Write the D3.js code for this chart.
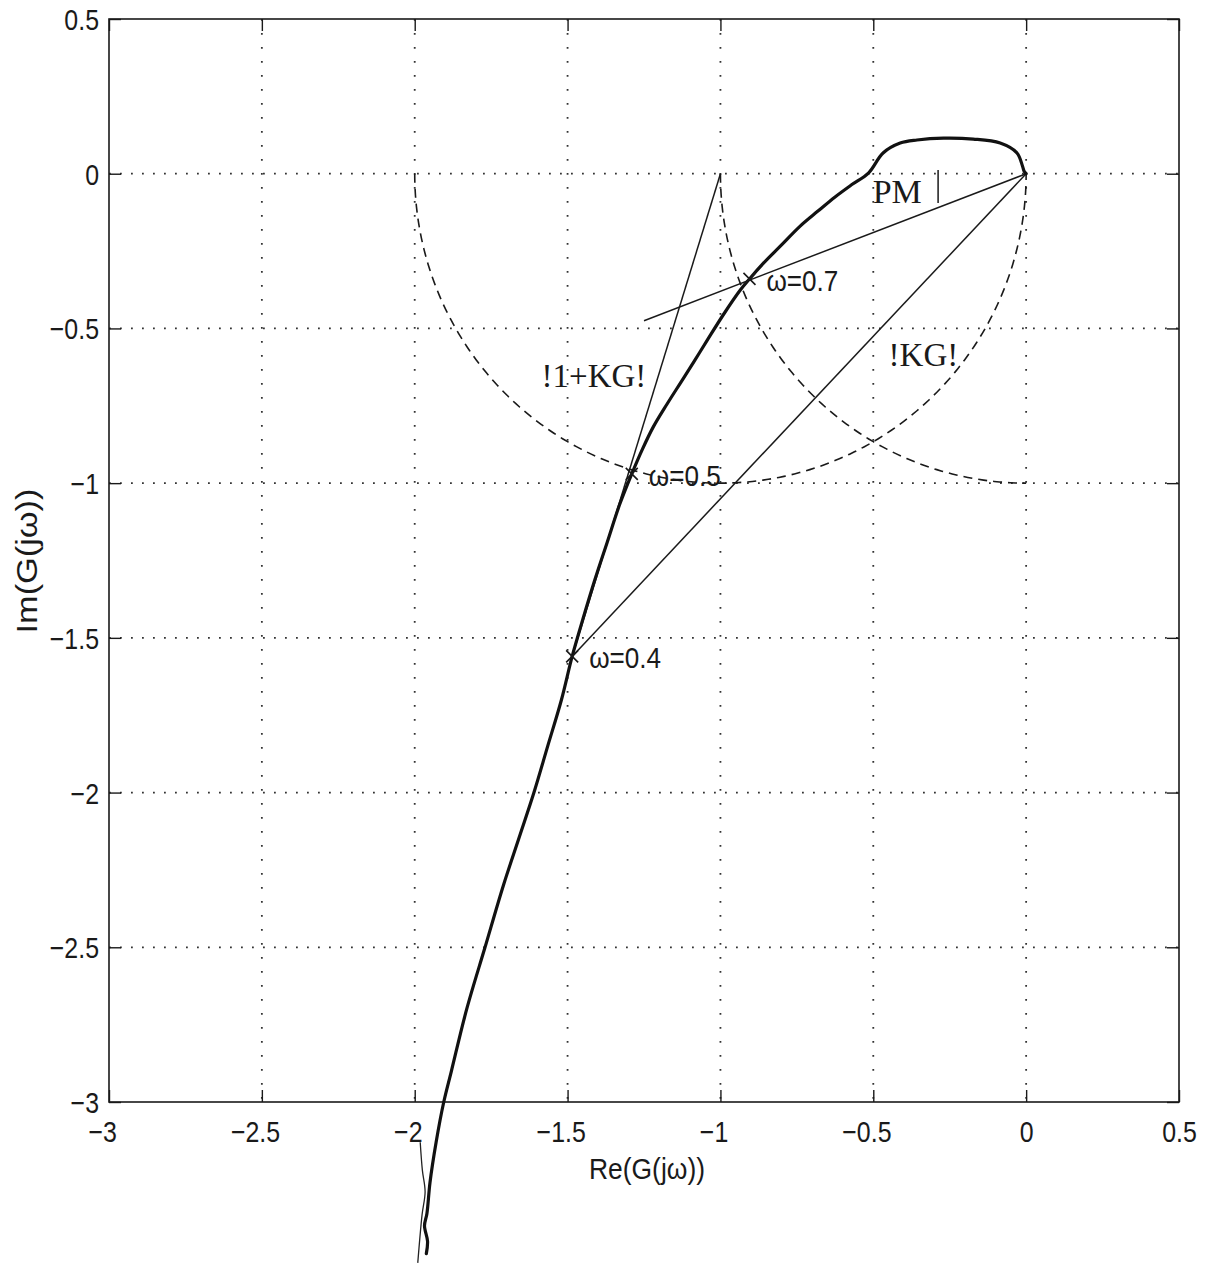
<!DOCTYPE html>
<html><head><meta charset="utf-8">
<script src="https://cdn.jsdelivr.net/npm/d3@7"></script>
<style>body{margin:0;background:#fff}svg{display:block}</style>
</head><body>
<svg id="chart" width="1209" height="1263"></svg>
<script>
// ---- data ----
const xTicks = [-3, -2.5, -2, -1.5, -1, -0.5, 0, 0.5];
const yTicks = [-3, -2.5, -2, -1.5, -1, -0.5, 0, 0.5];
const xTickLabels = ["3", "2.5", "2", "1.5", "1", "0.5", "0", "0.5"];
const yTickLabels = ["3", "2.5", "2", "1.5", "1", "0.5", "0", "0.5"];

// Nyquist curve G(jw), from origin (high freq) outward (low freq)
const curveRe = [0, -0.007, -0.012, -0.03, -0.085, -0.173, -0.27, -0.357, -0.412, -0.468, -0.515,
  -0.57, -0.625, -0.68, -0.74, -0.8, -0.86, -0.905, -0.935, -0.99, -1.043, -1.085, -1.13, -1.175, -1.22, -1.255, -1.29,
  -1.33, -1.37, -1.41, -1.45, -1.485, -1.52, -1.565, -1.61, -1.66, -1.71, -1.77, -1.83, -1.88, -1.905,
  -1.93, -1.95, -1.96, -1.968, -1.958, -1.962];
const curveIm = [0, 0.009, 0.025, 0.067, 0.099, 0.112, 0.115, 0.109, 0.099, 0.067, 0.003,
  -0.035, -0.075, -0.12, -0.17, -0.23, -0.29, -0.34, -0.376, -0.455, -0.538, -0.605, -0.675, -0.745, -0.819, -0.89, -0.97,
  -1.07, -1.19, -1.31, -1.44, -1.56, -1.7, -1.85, -2.0, -2.15, -2.3, -2.5, -2.7, -2.9, -3.0,
  -3.13, -3.26, -3.36, -3.4, -3.45, -3.49];
// thin stray trace below the axes
const tailRe = [-1.982, -1.975, -1.966, -1.976, -1.99];
const tailIm = [-3.13, -3.22, -3.29, -3.365, -3.52];

// marked frequencies
const markLabels = ["ω=0.7", "ω=0.5", "ω=0.4"];
const markRe = [-0.905, -1.29, -1.485];
const markIm = [-0.34, -0.97, -1.56];

// construction lines [x1, y1, x2, y2]
const segX1 = [0, 0, -1, -0.288];
const segY1 = [0, 0, 0, 0.012];
const segX2 = [-1.25, -1.485, -1.485, -0.288];
const segY2 = [-0.475, -1.56, -1.56, -0.095];

// dashed circle arcs: centre, radius, start/end angle (deg)
const arcCx = [-1, 0];
const arcCy = [0, 0];
const arcR = [1, 1];
const arcA0 = [180, 180];
const arcA1 = [360, 270];

// text annotations
const noteText = ["PM", "!KG!", "!1+KG!"];
const noteRe = [-0.502, -0.45, -1.585];
const noteIm = [-0.095, -0.62, -0.69];

// ---- drawing ----
const svg = d3.select("#chart");
const x = d3.scaleLinear().domain([-3, 0.5]).range([109, 1179]);
const y = d3.scaleLinear().domain([-3, 0.5]).range([1102, 19]);
const ink = "#1a1a1a";

// grid
const grid = svg.append("g");
grid.selectAll(".vg").data(xTicks.slice(1, -1)).join("line")
  .attr("x1", d => x(d)).attr("x2", d => x(d)).attr("y1", y(0.5)).attr("y2", y(-3))
  .attr("stroke", "#333").attr("stroke-width", 1.8).attr("stroke-dasharray", "1.8,12.2");
grid.selectAll(".hg").data(yTicks.slice(1, -1)).join("line")
  .attr("y1", d => y(d)).attr("y2", d => y(d)).attr("x1", x(-3)).attr("x2", x(0.5))
  .attr("stroke", "#333").attr("stroke-width", 1.8).attr("stroke-dasharray", "1.8,9.2");

// axes
const fmtX = (d, i) => xTickLabels[i];
const fmtY = (d, i) => yTickLabels[i];
const sx = 0.86;
const axB = svg.append("g").attr("transform", `translate(0,${y(-3)})`)
  .call(d3.axisBottom(x).tickValues(xTicks).tickSize(-12).tickFormat(fmtX));
const axL = svg.append("g").attr("transform", `translate(${x(-3)},0)`)
  .call(d3.axisLeft(y).tickValues(yTicks).tickSize(-12).tickFormat(fmtY));
const axT = svg.append("g").attr("transform", `translate(0,${y(0.5)})`)
  .call(d3.axisTop(x).tickValues(xTicks).tickSize(-12).tickFormat(""));
const axR = svg.append("g").attr("transform", `translate(${x(0.5)},0)`)
  .call(d3.axisRight(y).tickValues(yTicks).tickSize(-12).tickFormat(""));
[axB, axL, axT, axR].forEach(a => {
  a.select(".domain").remove();
  a.selectAll(".tick line").attr("stroke", ink).attr("stroke-width", 1.4);
});
axB.selectAll(".tick text")
  .text((d, i) => (d < 0 ? "\u2212" : "") + xTickLabels[i])
  .attr("font-family", "'Liberation Sans', Arial, sans-serif").attr("font-size", 29)
  .attr("fill", ink).attr("y", 40).attr("dy", 0)
  .attr("dx", d => d < 0 ? -8 : 0)
  .attr("transform", `scale(${sx},1)`);
axL.selectAll(".tick text")
  .text((d, i) => (d < 0 ? "\u2212" : "") + yTickLabels[i])
  .attr("font-family", "'Liberation Sans', Arial, sans-serif").attr("font-size", 29)
  .attr("fill", ink).attr("x", -10 / sx).attr("y", 10.5).attr("dy", 0)
  .attr("transform", `scale(${sx},1)`);

// frame
svg.append("rect").attr("x", x(-3)).attr("y", y(0.5))
  .attr("width", x(0.5) - x(-3)).attr("height", y(-3) - y(0.5))
  .attr("fill", "none").attr("stroke", ink).attr("stroke-width", 1.6);

// axis titles
svg.append("text").attr("x", 647).attr("y", 1179).attr("text-anchor", "middle")
  .attr("font-family", "'Liberation Sans', Arial, sans-serif").attr("font-size", 29).attr("fill", ink)
  .attr("textLength", 116).attr("lengthAdjust", "spacingAndGlyphs").text("Re(G(jω))");
svg.append("text").attr("transform", "translate(37,561) rotate(-90)").attr("text-anchor", "middle")
  .attr("font-family", "'Liberation Sans', Arial, sans-serif").attr("font-size", 29).attr("fill", ink)
  .attr("textLength", 145).attr("lengthAdjust", "spacingAndGlyphs").text("Im(G(jω))");

// dashed arcs
const arcLine = d3.line().x(p => x(p[0])).y(p => y(p[1]));
arcCx.forEach((cx, i) => {
  const pts = d3.range(arcA0[i], arcA1[i] + 0.5, 1).map(a => {
    const r = a * Math.PI / 180;
    return [cx + arcR[i] * Math.cos(r), arcCy[i] + arcR[i] * Math.sin(r)];
  });
  svg.append("path").attr("d", arcLine(pts)).attr("fill", "none")
    .attr("stroke", ink).attr("stroke-width", 1.6).attr("stroke-dasharray", "9,6");
});

// construction lines
svg.selectAll(".seg").data(segX1).join("line")
  .attr("x1", (d, i) => x(segX1[i])).attr("y1", (d, i) => y(segY1[i]))
  .attr("x2", (d, i) => x(segX2[i])).attr("y2", (d, i) => y(segY2[i]))
  .attr("stroke", ink).attr("stroke-width", 1.5);

// Nyquist curve
const line = d3.line().x(d => x(d[0])).y(d => y(d[1])).curve(d3.curveCatmullRom.alpha(0.5));
svg.append("path").attr("d", line(curveRe.map((v, i) => [v, curveIm[i]])))
  .attr("fill", "none").attr("stroke", "#111").attr("stroke-width", 3.2)
  .attr("stroke-linejoin", "round").attr("stroke-linecap", "round");
svg.append("path").attr("d", line(tailRe.map((v, i) => [v, tailIm[i]])))
  .attr("fill", "none").attr("stroke", "#222").attr("stroke-width", 1.3);

// markers
markRe.forEach((mx, i) => {
  const px = x(mx), py = y(markIm[i]), s = 6;
  svg.append("path").attr("d", `M${px - s},${py - s}L${px + s},${py + s}M${px - s},${py + s}L${px + s},${py - s}`)
    .attr("stroke", ink).attr("stroke-width", 1.6);
  svg.append("text").attr("transform", `translate(${px + 17},${py + 12}) scale(0.87,1)`)
    .attr("font-family", "'Liberation Sans', Arial, sans-serif").attr("font-size", 30)
    .attr("fill", ink).text(markLabels[i]);
});

// annotations
const noteSize = [34, 33, 33];
noteText.forEach((t, i) => {
  svg.append("text").attr("x", x(noteRe[i])).attr("y", y(noteIm[i]))
    .attr("font-family", "'Liberation Serif', 'Times New Roman', serif").attr("font-size", noteSize[i])
    .attr("fill", ink).text(t);
});
</script>
</body></html>
